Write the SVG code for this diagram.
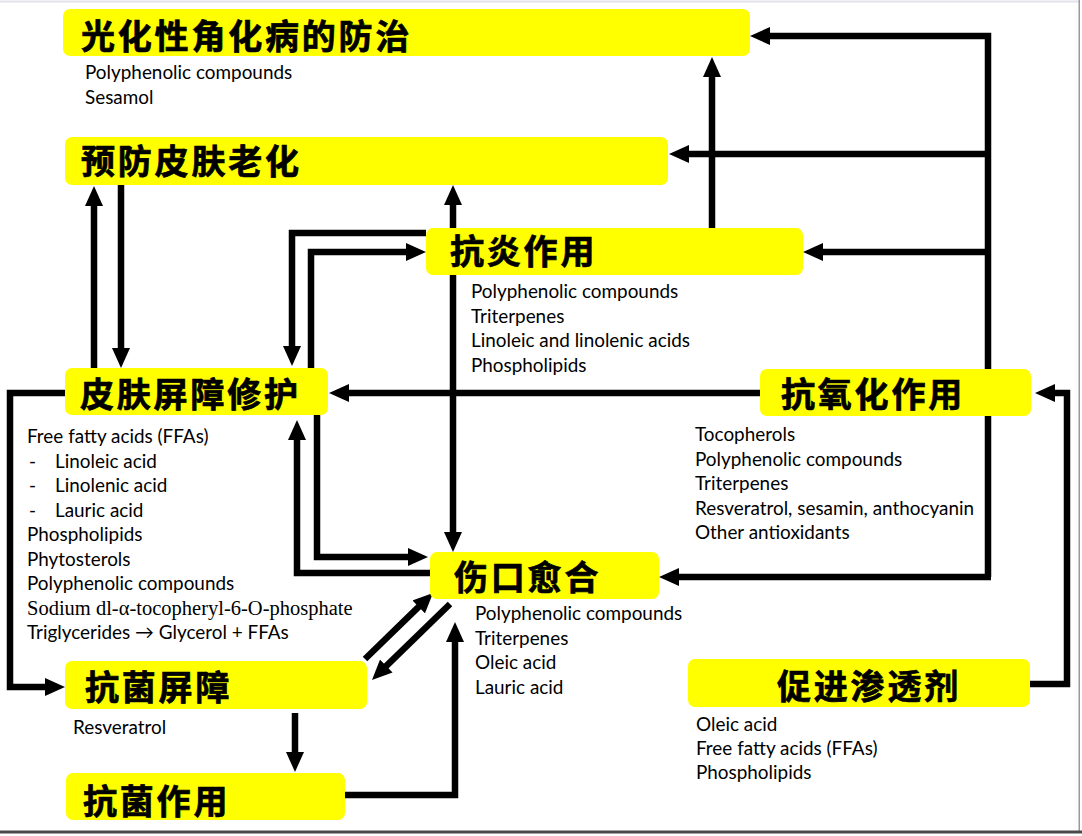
<svg xmlns="http://www.w3.org/2000/svg" width="1082" height="836" viewBox="0 0 1082 836">
<style>
.box{fill:#FFFF00}
.t{font-family:"Noto Sans CJK SC","Noto Sans CJK JP",sans-serif;font-weight:700;font-size:34px;letter-spacing:2.8px;fill:#000;stroke:#000;stroke-width:0.7}
.s{font-family:Lato,"Liberation Sans",sans-serif;font-size:18.9px;fill:#000}
.sr{font-family:"Liberation Serif",serif;font-size:20.5px;fill:#000}
.c{fill:none;stroke:#000;stroke-width:6.5;stroke-linejoin:miter}
.a{marker-end:url(#ah)}
.b{marker-start:url(#ahs);marker-end:url(#ahs)}
</style>
<defs>
<marker id="ah" markerUnits="userSpaceOnUse" markerWidth="20" markerHeight="18" refX="6" refY="9" orient="auto"><path d="M0,0 L20,9 L0,18 z" fill="#000"/></marker>
<marker id="ahs" markerUnits="userSpaceOnUse" markerWidth="20" markerHeight="18" refX="6" refY="9" orient="auto-start-reverse"><path d="M0,0 L20,9 L0,18 z" fill="#000"/></marker>
</defs>
<rect width="1082" height="836" fill="#fff"/>
<g id="frame">
<rect x="0" y="0.5" width="1080" height="2" fill="#e2e2ea"/>
<rect x="1078.5" y="0" width="1.5" height="832" fill="#9a9a9a"/>
<rect x="0" y="830.5" width="1082" height="3" fill="#4a4a4a"/>
</g>
<g id="connectors">
<path class="c a" d="M988,577 V36 H764"/>
<path class="c a" d="M988,154 H683"/>
<path class="c a" d="M988,252 H817"/>
<path class="c a" d="M991,577 H673"/>
<path class="c a" d="M712,228 V71"/>
<path class="c b" d="M453,199 V538"/>
<path class="c a" d="M760,393 H343"/>
<path class="c a" d="M1030,684 H1067 V393 H1049"/>
<path class="c a" d="M94,368 V200"/>
<path class="c a" d="M121,185 V354"/>
<path class="c a" d="M426,233 H292 V352"/>
<path class="c a" d="M311,368 V252 H412"/>
<path class="c a" d="M430,573 H297 V434"/>
<path class="c a" d="M317,415 V557 H414"/>
<path class="c a" d="M65,393 H10 V687 H51"/>
<path class="c a" d="M295,713 V758"/>
<path class="c a" d="M345,795 H455 V636"/>
<path class="c a" d="M365,659 L423,602.7"/>
<path class="c a" d="M450,604 L382,670.2"/>
</g>
<g id="n1">
<rect class="box" x="63" y="9" width="687" height="47" rx="7"/>
<text class="t" x="81" y="49">光化性角化病的防治</text>
<text class="s"><tspan x="85" y="79">Polyphenolic compounds</tspan><tspan x="85" y="103.5">Sesamol</tspan></text>
</g>
<g id="n2">
<rect class="box" x="65" y="137" width="603" height="48" rx="7"/>
<text class="t" x="81" y="174">预防皮肤老化</text>
</g>
<g id="n3">
<rect class="box" x="426" y="228" width="377" height="47" rx="7"/>
<text class="t" x="450" y="264">抗炎作用</text>
<text class="s"><tspan x="471" y="298">Polyphenolic compounds</tspan><tspan x="471" y="322.5">Triterpenes</tspan><tspan x="471" y="347">Linoleic and linolenic acids</tspan><tspan x="471" y="371.5">Phospholipids</tspan></text>
</g>
<g id="n4">
<rect class="box" x="65" y="368" width="263" height="47" rx="7"/>
<text class="t" x="80" y="407">皮肤屏障修护</text>
<text class="s"><tspan x="27" y="443">Free fatty acids (FFAs)</tspan><tspan x="29" y="467.5">-</tspan><tspan x="55" y="467.5">Linoleic acid</tspan><tspan x="29" y="492">-</tspan><tspan x="55" y="492">Linolenic acid</tspan><tspan x="29" y="516.5">-</tspan><tspan x="55" y="516.5">Lauric acid</tspan><tspan x="27" y="541">Phospholipids</tspan><tspan x="27" y="565.5">Phytosterols</tspan><tspan x="27" y="590">Polyphenolic compounds</tspan></text>
<text class="sr" x="27" y="614.5">Sodium dl-α-tocopheryl-6-O-phosphate</text>
<text class="s" x="27" y="639">Triglycerides → Glycerol + FFAs</text>
</g>
<g id="n5">
<rect class="box" x="760" y="369" width="271" height="47" rx="7"/>
<text class="t" x="781" y="407">抗氧化作用</text>
<text class="s"><tspan x="695" y="441">Tocopherols</tspan><tspan x="695" y="465.5">Polyphenolic compounds</tspan><tspan x="695" y="490">Triterpenes</tspan><tspan x="695" y="514.5">Resveratrol, sesamin, anthocyanin</tspan><tspan x="695" y="539">Other antioxidants</tspan></text>
</g>
<g id="n6">
<rect class="box" x="430" y="552" width="229" height="47" rx="7"/>
<text class="t" x="454" y="590">伤口愈合</text>
<text class="s"><tspan x="475" y="620">Polyphenolic compounds</tspan><tspan x="475" y="644.5">Triterpenes</tspan><tspan x="475" y="669">Oleic acid</tspan><tspan x="475" y="693.5">Lauric acid</tspan></text>
</g>
<g id="n7">
<rect class="box" x="65" y="661" width="302" height="48" rx="7"/>
<text class="t" x="85" y="700">抗菌屏障</text>
<text class="s" x="73" y="733.5">Resveratrol</text>
</g>
<g id="n8">
<rect class="box" x="688" y="659" width="342" height="48" rx="7"/>
<text class="t" x="777" y="699">促进渗透剂</text>
<text class="s"><tspan x="696" y="730.5">Oleic acid</tspan><tspan x="696" y="755">Free fatty acids (FFAs)</tspan><tspan x="696" y="779">Phospholipids</tspan></text>
</g>
<g id="n9">
<rect class="box" x="66" y="773" width="279" height="47" rx="7"/>
<text class="t" x="83" y="814">抗菌作用</text>
</g>
</svg>
